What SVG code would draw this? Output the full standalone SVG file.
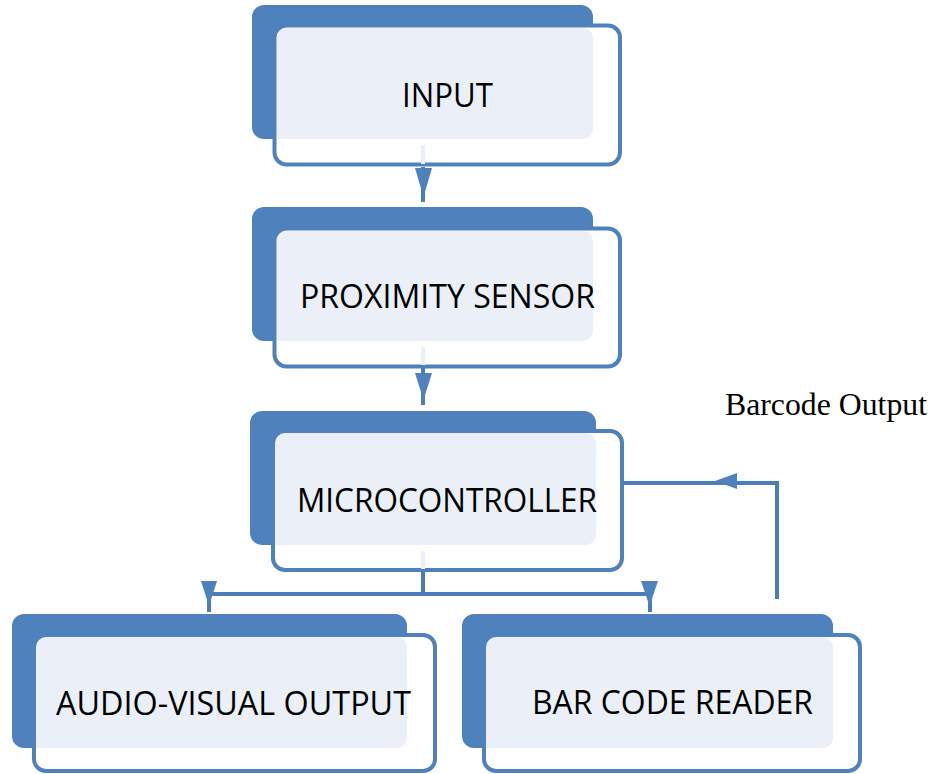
<svg xmlns="http://www.w3.org/2000/svg" width="930" height="774" viewBox="0 0 930 774">
<style>
.back{fill:#4F81BD}
.under{fill:#FFFFFF}
.light{fill:#EBF0F8}
.outline{fill:none;stroke:#4F81BD;stroke-width:4}
.lbl{font-family:"Open Sans","Liberation Sans",sans-serif;font-size:32px;fill:#000;text-anchor:middle}
.conn{fill:none;stroke:#4A7EBB;stroke-width:4}
.stub{fill:none;stroke:#EBF0F8;stroke-width:4}
.head{fill:#4F81BD}
.note{font-family:"Liberation Serif","Times New Roman",serif;font-size:32px;fill:#000}
</style>
<rect width="930" height="774" fill="#FFFFFF"/>

<g id="input">
<rect class="back" x="252" y="5" width="341" height="134" rx="12"/>
<rect class="under" x="274.5" y="25.5" width="345.5" height="139" rx="12"/>
<path class="light" d="M277,28 H583 A10,10 0 0 1 593,38 V129 A10,10 0 0 1 583,139 H277 Z"/>
<rect class="outline" x="274.5" y="25.5" width="345.5" height="139" rx="12"/>
<text class="lbl" x="447.5" y="107" textLength="91" lengthAdjust="spacingAndGlyphs">INPUT</text>
</g>

<g id="proximity-sensor">
<rect class="back" x="252" y="207" width="341" height="134" rx="12"/>
<rect class="under" x="274.5" y="228.5" width="345.5" height="138" rx="12"/>
<path class="light" d="M277,231 H583 A10,10 0 0 1 593,241 V331 A10,10 0 0 1 583,341 H277 Z"/>
<rect class="outline" x="274.5" y="228.5" width="345.5" height="138" rx="12"/>
<text class="lbl" x="447.5" y="307.5" textLength="295" lengthAdjust="spacingAndGlyphs">PROXIMITY SENSOR</text>
</g>

<g id="microcontroller">
<rect class="back" x="250" y="411" width="346" height="134" rx="12"/>
<rect class="under" x="273" y="431" width="349" height="139" rx="12"/>
<path class="light" d="M275,433 H586 A10,10 0 0 1 596,443 V535 A10,10 0 0 1 586,545 H275 Z"/>
<rect class="outline" x="273" y="431" width="349" height="139" rx="12"/>
<text class="lbl" x="447" y="512" textLength="300" lengthAdjust="spacingAndGlyphs">MICROCONTROLLER</text>
</g>

<g id="audio-visual-output">
<rect class="back" x="12" y="614" width="395" height="134" rx="12"/>
<rect class="under" x="34" y="635" width="401" height="136" rx="12"/>
<path class="light" d="M36,637 H397 A10,10 0 0 1 407,647 V738 A10,10 0 0 1 397,748 H36 Z"/>
<rect class="outline" x="34" y="635" width="401" height="136" rx="12"/>
<text class="lbl" x="233.5" y="715" textLength="355" lengthAdjust="spacingAndGlyphs">AUDIO-VISUAL OUTPUT</text>
</g>

<g id="bar-code-reader">
<rect class="back" x="462" y="614" width="371" height="134" rx="12"/>
<rect class="under" x="484" y="635" width="376" height="136" rx="12"/>
<path class="light" d="M486,637 H823 A10,10 0 0 1 833,647 V738 A10,10 0 0 1 823,748 H486 Z"/>
<rect class="outline" x="484" y="635" width="376" height="136" rx="12"/>
<text class="lbl" x="672.5" y="714" textLength="281" lengthAdjust="spacingAndGlyphs">BAR CODE READER</text>
</g>

<g id="connectors">
<line class="stub" x1="423" y1="145" x2="423" y2="164"/>
<line class="conn" x1="423" y1="167" x2="423" y2="202"/>
<polygon class="head" points="415,168 432,168 423.5,197"/>

<line class="stub" x1="423" y1="347" x2="423" y2="365"/>
<line class="conn" x1="423" y1="368" x2="423" y2="405"/>
<polygon class="head" points="415,373 432,373 423.5,400"/>

<line class="stub" x1="423" y1="551" x2="423" y2="569"/>
<polyline class="conn" points="423,572 423,594"/>
<polyline class="conn" points="209,612 209,594 650,594 650,612"/>
<polygon class="head" points="201,581 217,581 209,606"/>
<polygon class="head" points="641,581 658,581 649.5,606"/>

<polyline class="conn" points="777,599 777,483 622,483"/>
<polygon class="head" points="715,481 737,473 737,489"/>
</g>

<g id="label-barcode-output">
<text class="note" x="725" y="415" textLength="202" lengthAdjust="spacingAndGlyphs">Barcode Output</text>
</g>
</svg>
